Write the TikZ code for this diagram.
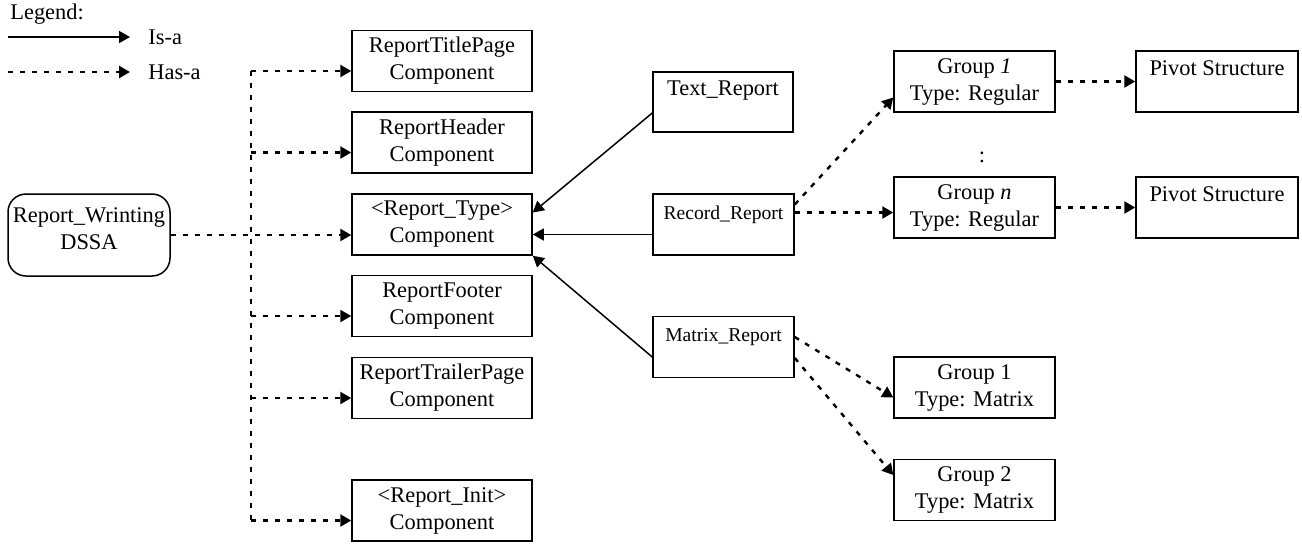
\documentclass[tikz,border=0pt]{standalone}
\usepackage{fontspec}
\setmainfont{Liberation Serif}
\usetikzlibrary{arrows.meta}

\begin{document}
\begin{tikzpicture}
[x=0.5pt,y=-0.5pt,font=\fontsize{11.2}{13.5}\selectfont,
  boxdecorate/.style={shape=rectangle,draw,line width=0.75pt,align=center,inner sep=0pt},
  compdecorate/.style={boxdecorate,minimum width=90pt,minimum height=30.5pt},
  groupdecorate/.style={boxdecorate,minimum width=80.5pt,minimum height=30.5pt},
  pivotdecorate/.style={boxdecorate,minimum width=81pt,minimum height=30.5pt},
  smalldecorate/.style={boxdecorate,minimum width=70.5pt,minimum height=30.5pt,
    font=\fontsize{9.8}{12}\selectfont},
  isadecorate/.style={-{Triangle[length=5.5pt,width=6pt]},line width=0.75pt},
  hasadecorate/.style={-{Triangle[length=5.5pt,width=6pt]},line width=1.2pt,
    dash pattern=on 2.5pt off 3.5pt}]
\useasboundingbox (0,0) rectangle (1302,543);
%%
%% Legend
\node (legend) at (10,14) [anchor=west,inner sep=0pt] {Legend:};
\coordinate (isa-a) at (8,37);
\coordinate (isa-b) at (130,37);
\node (isa) at (148,37) [anchor=west,inner sep=0pt] {Is-a};
\coordinate (hasa-a) at (8,72);
\coordinate (hasa-b) at (130,72);
\node (hasa) at (148,72) [anchor=west,inner sep=0pt] {Has-a};
\draw[isadecorate] (isa-a) -- (isa-b);
\draw[hasadecorate] (hasa-a) -- (hasa-b);
%%
%% Root and components
\node (rw) at (89,235) [boxdecorate,rounded corners=9pt,minimum width=81pt,
  minimum height=41pt] {Report\_Wrinting\\DSSA\\[-7.5pt]\mbox{}};
\foreach \nodename/\y/\name in {
  tp/61/ReportTitlePage, rh/142.5/ReportHeader, rt/224.5/<Report\_Type>,
  rf/306/ReportFooter, rtp/388/ReportTrailerPage, ri/510.5/<Report\_Init>}
{
  \node (\nodename) at (442,\y) [compdecorate] {\name\\Component};
  \coordinate (\nodename-in) at ([yshift=-5pt]\nodename.west);
}
%% has-a tree
\coordinate (trunk) at (251,0);
\draw[hasadecorate,-] (trunk |- tp-in) -- (trunk |- ri-in);
\draw[hasadecorate] (rw.east) -- (rw.east -| rt.west);
\foreach \nodename in {tp,rh,rf,rtp,ri}
  \draw[hasadecorate] (trunk |- \nodename-in) -- (\nodename-in);
%%
%% Report kinds
\node (txt) at (723,102) [boxdecorate,minimum width=70pt,minimum height=30pt]
  {Text\_Report\\\mbox{}};
\node (rec) at (723.5,224.5) [smalldecorate] {Record\_Report\\\mbox{}};
\node (mat) at (723.5,347) [smalldecorate] {Matrix\_Report\\\mbox{}};
\draw[isadecorate] ([yshift=-5.5pt]txt.west) -- ([yshift=6pt]rt.east);
\draw[isadecorate] ([yshift=-5pt]rec.west) -- ([yshift=-5pt]rt.east);
\draw[isadecorate] ([yshift=-5pt]mat.west) -- (rt.south east);
%%
%% Groups and pivots
\node (g1) at (974.5,81.5) [groupdecorate] {Group \textit{1}\\Type: Regular};
\node (gn) at (974.5,207.5) [groupdecorate] {Group \textit{n}\\Type: Regular};
\node (vdots) at (982,157) {:};
\node (pv1) at (1217,81.5) [pivotdecorate] {Pivot Structure\\\mbox{}};
\node (pvn) at (1217,207.5) [pivotdecorate] {Pivot Structure\\\mbox{}};
\node (gm1) at (974.5,387.5) [groupdecorate] {Group 1\\Type: Matrix};
\node (gm2) at (974.5,490) [groupdecorate] {Group 2\\Type: Matrix};
\coordinate (rec-out) at ([yshift=6pt]rec.east);
\draw[hasadecorate] ([yshift=10pt]rec.east) -- ([yshift=-8pt]g1.west);
\draw[hasadecorate] (rec-out) -- (rec-out -| gn.west);
\draw[hasadecorate] (g1.east) -- (pv1.west);
\draw[hasadecorate] (gn.east) -- (pvn.west);
\draw[hasadecorate] ([yshift=5pt]mat.east) -- ([yshift=-5pt]gm1.west);
\draw[hasadecorate] ([yshift=-5.5pt]mat.east) -- ([yshift=7.5pt]gm2.west);
\end{tikzpicture}
\end{document}
